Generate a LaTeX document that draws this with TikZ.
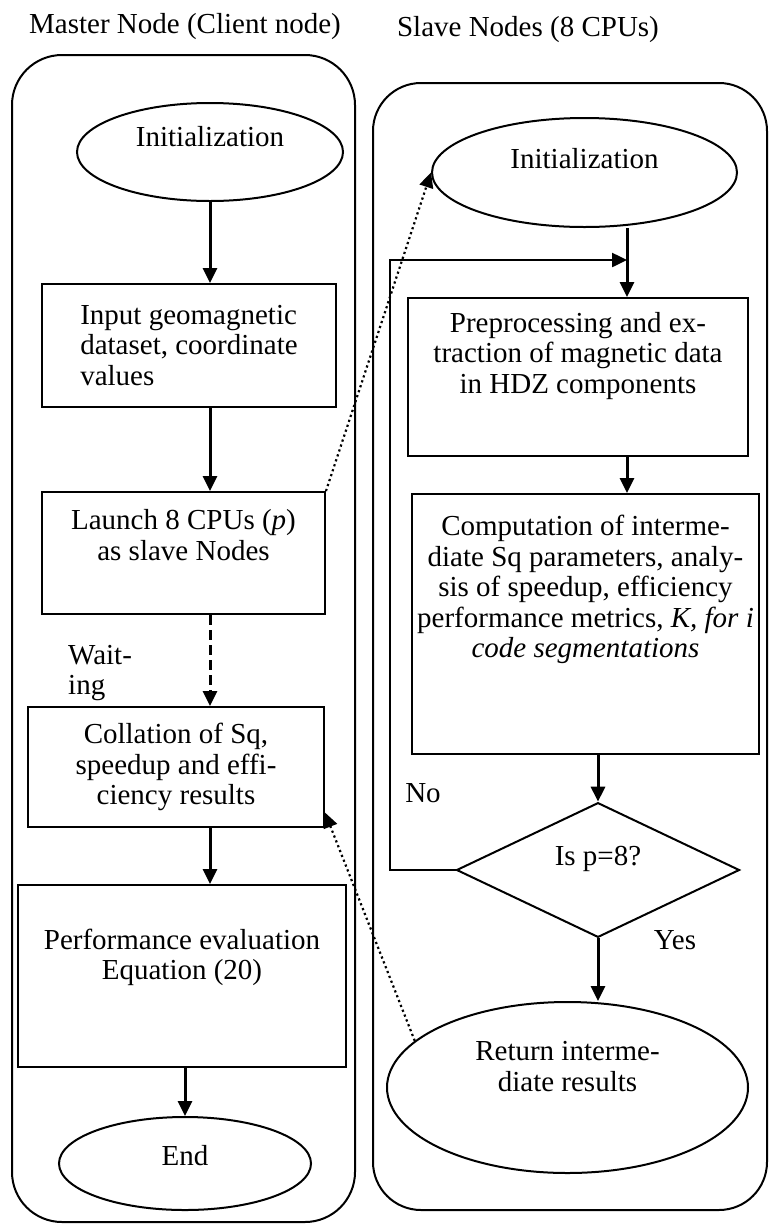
\documentclass[tikz,border=0pt]{standalone}
\usepackage{fontspec}
\setmainfont{Liberation Serif}
\usetikzlibrary{shapes.geometric, arrows.meta}

\tikzstyle{lane} = [draw = black, line width = 2pt]
\tikzstyle{startstop} = [ellipse, draw = black, line width = 2pt, inner sep = 0pt, align = center]
\tikzstyle{procbox} = [rectangle, draw = black, line width = 2pt, align = center, inner sep = 0pt]
\tikzstyle{decision} = [diamond, draw = black, line width = 2pt, inner sep = 0pt]
\tikzstyle{flow} = [line width = 3pt]
\tikzstyle{waitline} = [flow, dash pattern = on 10pt off 5pt]
\tikzstyle{msgline} = [line width = 2.2pt, dash pattern = on 2.2pt off 3pt]

\begin{document}
\begin{tikzpicture}[x = 1pt, y = -1pt, font = \fontsize{29pt}{30.5pt}\selectfont,
		> = {Triangle[length = 15pt, width = 14pt]}]
			\useasboundingbox (0,0) rectangle (769,1224);
			% the two lanes
			\draw[lane, rounded corners = 50pt] (12,55) rectangle (355,1222);
			\draw[lane, rounded corners = 48pt] (373,83) rectangle (767,1210);
			\node (mastertitle) at (185,27) {Master Node (Client node)};
			\node (slavetitle) at (528,30) {Slave Nodes (8 CPUs)};
			% master node
			\node[startstop, minimum width = 266pt, minimum height = 98pt, text depth = 32pt] (init) at (210,152) {Initialization};
			\node[procbox, minimum width = 294pt, minimum height = 123pt, align = left] (input) at (189,345.5) {Input geomagnetic\\dataset, coordinate\\values};
			\node[procbox, minimum width = 283pt, minimum height = 122pt, text depth = 36pt] (launch) at (183.5,553) {Launch 8 CPUs (\textit{p})\\as slave Nodes};
			\node[procbox, minimum width = 296pt, minimum height = 120pt] (collate) at (176,767) {Collation of Sq,\\speedup and effi-\\ciency results};
			\node[procbox, minimum width = 328pt, minimum height = 182pt, text depth = 43pt] (perf) at (182,976) {Performance evaluation\\Equation (20)};
			\node[startstop, minimum width = 252pt, minimum height = 93pt, text depth = 16pt] (finish) at (185,1163.5) {End};
			\node[align = left, anchor = north west, inner sep = 0pt] (waiting) at (68,645) {Wait-\\ing};
			% slave nodes
			\node[startstop, minimum width = 305pt, minimum height = 109pt, text depth = 29pt] (rinit) at (584.5,172.5) {Initialization};
			\coordinate (join) at (627,260);
			\coordinate (loopcorner) at (390,870);
			\node[procbox, minimum width = 340pt, minimum height = 158pt, text depth = 49pt] (prep) at (578,377) {Preprocessing and ex-\\traction of magnetic data\\in HDZ components};
			\node[procbox, minimum width = 347pt, minimum height = 260pt, text depth = 75pt] (comp) at (585.5,624) {Computation of interme-\\diate Sq parameters, analy-\\sis of speedup, efficiency\\performance metrics, \textit{K, for i}\\\textit{code segmentations}};
			\node[decision, minimum width = 283pt, minimum height = 134pt, text depth = 29pt] (check) at (598,870) {Is p=8?};
			\node[startstop, minimum width = 361pt, minimum height = 171pt, text depth = 42pt] (ret) at (567.5,1087.5) {Return interme-\\diate results};
			\node (no) at (423,793) {No};
			\node (yes) at (675,940) {Yes};
			%%%%%%%%%%%%%%%%%%%%%%%%%%%%%%%%%%%%%%%%%%%%%
			% flow on each side, then the messages between the lanes
			%%%%%%%%%%%%%%%%%%%%%%%%%%%%%%%%%%%%%%%%%%%%%
			\path[->, flow]
			(init.south) edge (init.south |- input.north)
			(input.south -| init.south) edge (launch.north -| init.south)
			(launch.south -| init.south) edge[waitline] (collate.north -| init.south)
			(collate.south -| init.south) edge (perf.north -| init.south)
			(finish.north |- perf.south) edge (finish.north)
			(rinit.south -| join) edge (prep.north -| join)
			(prep.south -| join) edge (comp.north -| join)
			(comp.south -| check.north) edge (check.north)
			(check.south) edge (check.south |- ret.north)
			(launch.north east) edge[msgline] (rinit.west)
			(ret.163) edge[msgline] (collate.-17);
			\draw[->, flow, line width = 2.5pt] (check.west) -- (loopcorner) |- (join);
		\end{tikzpicture}
\end{document}
